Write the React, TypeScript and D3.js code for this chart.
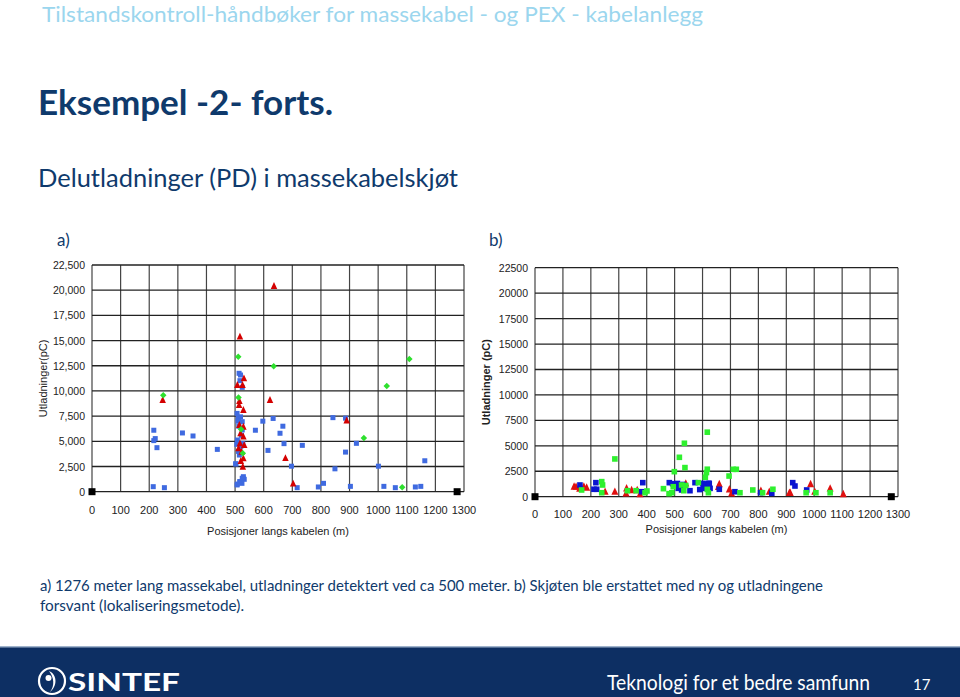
import React from "react";
import * as d3 from "d3";

// ---------- DATA ----------
const xTicks = [0, 100, 200, 300, 400, 500, 600, 700, 800, 900, 1000, 1100, 1200, 1300];
const yTicks = [0, 2500, 5000, 7500, 10000, 12500, 15000, 17500, 20000, 22500];

// Chart a) [position m, discharge pC]
const leftBlue: [number, number][] = [
  [214, 500], [253, 400], [216, 6100], [216, 5070], [221, 5270], [227, 4370], [316, 5830], [353, 5530],
  [438, 4200], [502, 2770], [507, 670], [516, 1000], [524, 830], [528, 1330], [532, 1230], [571, 6100],
  [597, 7000], [615, 4100], [633, 7270], [657, 5800], [667, 6500], [671, 4770], [697, 2530], [717, 400],
  [735, 4600], [791, 470], [809, 830], [842, 7350], [849, 2270], [886, 7300], [886, 3930], [903, 530],
  [924, 4800], [1001, 2530], [1020, 530], [1060, 400], [1130, 470], [1149, 530], [1163, 3070],
  [514, 11750], [519, 11580], [517, 11020], [525, 10360], [511, 7290], [525, 6950], [525, 6130],
  [508, 5130], [527, 4800], [515, 3640], [503, 2750], [529, 1490], [519, 990], [508, 760], [525, 1330],
  [507, 7770], [519, 7430], [510, 7000], [512, 4000], [520, 4500], [506, 4700], [522, 5600], [513, 6500],
];
const leftRed: [number, number][] = [
  [247, 9100], [517, 15400], [636, 20420], [531, 11250], [508, 10590], [526, 10590], [622, 9100],
  [515, 9000], [514, 8600], [529, 8110], [515, 6620], [529, 6450], [519, 5790], [529, 5460], [517, 4800],
  [532, 4630], [512, 4300], [523, 3970], [529, 3310], [520, 3050], [527, 2480], [676, 3330], [703, 800],
  [890, 7070],
];
const leftGreen: [number, number][] = [
  [249, 9570], [511, 13400], [635, 12450], [1030, 10490], [1109, 13170], [512, 9350], [521, 6200],
  [527, 3810], [950, 5330], [1084, 430],
];
const endMarkers: [number, number][] = [[0, 0], [1276, 0]];

// Chart b)
const rightGreen: [number, number][] = [
  [286, 3710], [535, 5250], [617, 6340], [517, 3870], [537, 2860], [499, 2460], [617, 2700], [614, 2370],
  [610, 1910], [721, 2690], [710, 2690], [695, 2030], [167, 660], [239, 1480], [242, 1150], [239, 390],
  [331, 590], [362, 590], [394, 390], [401, 560], [460, 790], [490, 390], [495, 980], [525, 1150],
  [533, 590], [585, 1380], [621, 390], [617, 720], [734, 390], [780, 660], [815, 390], [852, 730],
  [971, 390], [1006, 390], [1057, 390], [540, 1100], [480, 300],
];
const rightBlue: [number, number][] = [
  [161, 1150], [218, 1380], [211, 730], [221, 730], [386, 1380], [382, 490], [481, 1380], [493, 1280],
  [507, 1150], [513, 820], [525, 660], [555, 590], [573, 1380], [603, 1250], [621, 1310], [627, 820],
  [601, 1310], [624, 1310], [603, 820], [621, 820], [660, 730], [716, 490], [808, 390], [848, 330],
  [923, 1380], [931, 1050], [973, 660], [510, 1300], [520, 1000], [530, 1200], [590, 700],
];
const rightRed: [number, number][] = [
  [140, 1000], [147, 990], [160, 800], [175, 1000], [185, 900], [251, 490], [286, 490], [328, 830],
  [326, 330], [346, 660], [366, 660], [376, 260], [540, 1300], [660, 1250], [657, 980], [696, 730],
  [704, 330], [809, 590], [839, 490], [911, 390], [914, 390], [987, 1250], [1002, 490], [1057, 820],
  [1104, 260],
];

const AX_FONT = "'Liberation Sans', Arial, sans-serif";
const SLIDE_FONT = "Lato, 'Open Sans', sans-serif";

type Pt = [number, number];

function tri(cx: number, cy: number, s: number) {
  return `M${cx},${cy - s * 0.6} L${cx + s / 2},${cy + s * 0.45} L${cx - s / 2},${cy + s * 0.45} Z`;
}
function diamond(cx: number, cy: number, s: number) {
  return `M${cx},${cy - s / 2} L${cx + s / 2},${cy} L${cx},${cy + s / 2} L${cx - s / 2},${cy} Z`;
}

interface ChartProps {
  x0: number; x1: number; y0: number; y1: number;
  yFmt: (v: number) => string;
  yTitle: string; yTitleX: number; yTitleBold: boolean;
  xLabelY: number; xTitleY: number;
  children: (x: d3.ScaleLinear<number, number>, y: d3.ScaleLinear<number, number>) => React.ReactNode;
}

function Chart(p: ChartProps) {
  const x = d3.scaleLinear().domain([0, 1300]).range([p.x0, p.x1]);
  const y = d3.scaleLinear().domain([0, 22500]).range([p.y1, p.y0]);
  return (
    <g>
      {xTicks.map((t) => (
        <line key={"vx" + t} x1={x(t)} x2={x(t)} y1={y(22500)} y2={y(0)} stroke="#444" strokeWidth={1.2} />
      ))}
      {yTicks.map((t) => (
        <line key={"hy" + t} x1={x(0)} x2={x(1300)} y1={y(t)} y2={y(t)} stroke="#222" strokeWidth={1.3} />
      ))}
      {yTicks.map((t) => (
        <text key={"yl" + t} x={p.x0 - 7} y={y(t) + 4} textAnchor="end" fontFamily={AX_FONT} fontSize={10.5} fill="#222">
          {p.yFmt(t)}
        </text>
      ))}
      {xTicks.map((t) => (
        <text key={"xl" + t} x={x(t)} y={p.xLabelY} textAnchor="middle" fontFamily={AX_FONT} fontSize={11} fill="#222">
          {t}
        </text>
      ))}
      <text x={(p.x0 + p.x1) / 2} y={p.xTitleY} textAnchor="middle" fontFamily={AX_FONT} fontSize={11} fill="#222">
        Posisjoner langs kabelen (m)
      </text>
      <text
        transform={`translate(${p.yTitleX},${(p.y0 + p.y1) / 2}) rotate(-90)`}
        textAnchor="middle" fontFamily={AX_FONT} fontSize={11} fontWeight={p.yTitleBold ? "bold" : "normal"} fill="#222"
      >
        {p.yTitle}
      </text>
      {p.children(x, y)}
    </g>
  );
}

export default function App() {
  const fmtComma = d3.format(",");
  const fmtPlain = d3.format("d");
  return (
    <svg width={960} height={697} style={{ position: "absolute", left: 0, top: 0, background: "#fff" }}>
      <rect x={0} y={0} width={960} height={697} fill="#fff" />
      <text x={42} y={22} fontFamily={SLIDE_FONT} fontSize={22} fill="#9bd6ee" textLength={661} lengthAdjust="spacingAndGlyphs">
        Tilstandskontroll-håndbøker for massekabel - og PEX - kabelanlegg
      </text>
      <text x={38} y={115} fontFamily={SLIDE_FONT} fontSize={34} fontWeight="bold" fill="#0f3a6c" textLength={295} lengthAdjust="spacingAndGlyphs">
        Eksempel -2-  forts.
      </text>
      <text x={38} y={187} fontFamily={SLIDE_FONT} fontSize={25} fill="#0f3a6c" textLength={420} lengthAdjust="spacingAndGlyphs">
        Delutladninger (PD) i massekabelskjøt
      </text>
      <text x={57} y={246} fontFamily={SLIDE_FONT} fontSize={17} fill="#0f3a6c">a)</text>
      <text x={489} y={246} fontFamily={SLIDE_FONT} fontSize={17} fill="#0f3a6c">b)</text>

      <Chart x0={92} x1={464} y0={265} y1={491.7} yFmt={(v) => fmtComma(v)} yTitle="Utladninger(pC)" yTitleX={47}
        yTitleBold={false} xLabelY={514} xTitleY={535}>
        {(x, y) => (
          <g>
            {leftBlue.map((d: Pt, i) => (
              <rect key={"lb" + i} x={x(d[0]) - 2.5} y={y(d[1]) - 2.5} width={5} height={5} fill="#3f6ae0" />
            ))}
            {leftRed.map((d: Pt, i) => (
              <path key={"lr" + i} d={tri(x(d[0]), y(d[1]), 6.5)} fill="#d40000" />
            ))}
            {leftGreen.map((d: Pt, i) => (
              <path key={"lg" + i} d={diamond(x(d[0]), y(d[1]), 6.5)} fill="#2ee02e" />
            ))}
            {endMarkers.map((d: Pt, i) => (
              <rect key={"le" + i} x={x(d[0]) - 3.5} y={y(d[1]) - 3.5} width={7} height={7} fill="#000" />
            ))}
          </g>
        )}
      </Chart>

      <Chart x0={535} x1={898} y0={267.7} y1={496.7} yFmt={(v) => fmtPlain(v)} yTitle="Utladninger (pC)" yTitleX={490}
        yTitleBold={true} xLabelY={518} xTitleY={533}>
        {(x, y) => (
          <g>
            {rightRed.map((d: Pt, i) => (
              <path key={"rr" + i} d={tri(x(d[0]), y(d[1]), 7)} fill="#e01010" />
            ))}
            {rightBlue.map((d: Pt, i) => (
              <rect key={"rb" + i} x={x(d[0]) - 2.8} y={y(d[1]) - 2.8} width={5.6} height={5.6} fill="#0a14d0" />
            ))}
            {rightGreen.map((d: Pt, i) => (
              <rect key={"rg" + i} x={x(d[0]) - 2.8} y={y(d[1]) - 2.8} width={5.6} height={5.6} fill="#2ef02e" />
            ))}
            {endMarkers.map((d: Pt, i) => (
              <rect key={"re" + i} x={x(d[0]) - 3.5} y={y(d[1]) - 3.5} width={7} height={7} fill="#000" />
            ))}
          </g>
        )}
      </Chart>

      <text x={40} y={591} fontFamily={SLIDE_FONT} fontSize={16} fill="#0f3a6c" textLength={783} lengthAdjust="spacingAndGlyphs">
        a) 1276 meter lang massekabel, utladninger detektert ved ca 500 meter. b) Skjøten ble erstattet med ny og utladningene
      </text>
      <text x={40} y={611} fontFamily={SLIDE_FONT} fontSize={16} fill="#0f3a6c" textLength={204} lengthAdjust="spacingAndGlyphs">
        forsvant (lokaliseringsmetode).
      </text>

      <rect x={0} y={647} width={960} height={50} fill="#0d2f63" />
      <rect x={0} y={646} width={960} height={1.5} fill="#9fb3cc" />
      <circle cx={52} cy={681} r={13} fill="none" stroke="#fff" strokeWidth={2.2} />
      <path d="M49,671 C57,674 58,686 50,692 C55,686 54,677 49,671 Z" fill="#fff" />
      <circle cx={48.5} cy={678} r={3} fill="#fff" />
      <text x={68} y={691} fontFamily={SLIDE_FONT} fontSize={25} fontWeight="bold" fill="#fff" textLength={112} lengthAdjust="spacingAndGlyphs">
        SINTEF
      </text>
      <text x={607} y={690} fontFamily={SLIDE_FONT} fontSize={22} fill="#fff" textLength={263} lengthAdjust="spacingAndGlyphs">
        Teknologi for et bedre samfunn
      </text>
      <text x={913} y={690} fontFamily={SLIDE_FONT} fontSize={15} fill="#fff">17</text>
    </svg>
  );
}
